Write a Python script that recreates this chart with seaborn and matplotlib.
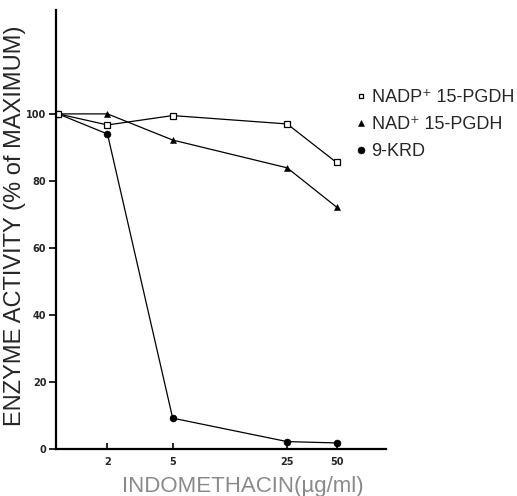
import matplotlib
matplotlib.use("Agg")
import matplotlib.pyplot as plt
from matplotlib.lines import Line2D
import numpy as np
import pandas as pd
import seaborn as sns

sns.set_style("white")
plt.rcParams["font.family"] = ["Liberation Sans", "DejaVu Sans"]

# indomethacin concentration (ug/ml); the control is drawn at the axis origin (1 on log scale)
conc = [1, 2, 5, 25, 50]
nadp_pgdh = [100, 96.7, 99.5, 97.0, 85.5]
nad_pgdh = [100, 100, 92.2, 83.9, 72.2]
krd = [100, 94.0, 9.2, 2.2, 1.8]

x_ticks = [2, 5, 25, 50]
x_tick_labels = ["2", "5", "25", "50"]
y_ticks = [0, 20, 40, 60, 80, 100]

names = ["NADP\u207a 15-PGDH", "NAD\u207a 15-PGDH", "9-KRD"]
df = pd.DataFrame({
    "conc": conc * 3,
    "activity": nadp_pgdh + nad_pgdh + krd,
    "enzyme": [n for n in names for _ in conc],
})

styles = {
    names[0]: dict(marker="s", markersize=3.8, markerfacecolor="white", markeredgewidth=0.9),
    names[1]: dict(marker="^", markersize=4.2, markerfacecolor="black", markeredgewidth=0.4),
    names[2]: dict(marker="o", markersize=5.0, markerfacecolor="black", markeredgewidth=0.4),
}

fig = plt.figure(figsize=(5.17, 4.96), dpi=100)
ax = fig.add_axes([0.1083, 0.0948, 0.638, 0.885])

for name in [names[2], names[1], names[0]]:
    sub = df[df["enzyme"] == name]
    sns.lineplot(data=sub, x="conc", y="activity", ax=ax, color="black",
                 linewidth=0.9, markeredgecolor="black", legend=False,
                 **styles[name])

ax.set_xscale("log")
ax.set_xlim(0.97, 100)
ax.set_ylim(0, 131)
ax.set_xticks(x_ticks)
ax.set_xticklabels(x_tick_labels)
ax.xaxis.set_minor_locator(matplotlib.ticker.NullLocator())
ax.set_yticks(y_ticks)

for s in ["top", "right"]:
    ax.spines[s].set_visible(False)
for s in ["left", "bottom"]:
    ax.spines[s].set_linewidth(1.6)
    ax.spines[s].set_color("black")

ax.tick_params(axis="x", direction="in", length=4, width=1.4, pad=6,
               labelsize=7, bottom=True)
ax.tick_params(axis="y", direction="out", length=5, width=1.4, pad=2,
               labelsize=7, left=True)
for lab in ax.get_xticklabels() + ax.get_yticklabels():
    lab.set_fontweight("bold")
    lab.set_family("DejaVu Sans")

ax.set_xlabel("")
ax.set_ylabel("")
fig.text(0.029, 0.545, "ENZYME ACTIVITY (% of MAXIMUM)", rotation=90,
         ha="center", va="center", fontsize=17)
fig.text(0.47, 0.02, "INDOMETHACIN(\u00b5g/ml)", ha="center", va="center",
         fontsize=16, color="#8a8a8a", fontweight="light")

handles = [Line2D([], [], color="black", linestyle="none", markeredgecolor="black",
                  **styles[n]) for n in names]
handles[0].set_markersize(3.5)
handles[1].set_markersize(4)
handles[2].set_markersize(5)
fig.legend(handles, names, loc="upper left", bbox_to_anchor=(0.675, 0.835),
           frameon=False, fontsize=13, handlelength=0.5, handletextpad=0.35,
           labelspacing=0.55, borderaxespad=0)

fig.savefig("out.png", dpi=100)
